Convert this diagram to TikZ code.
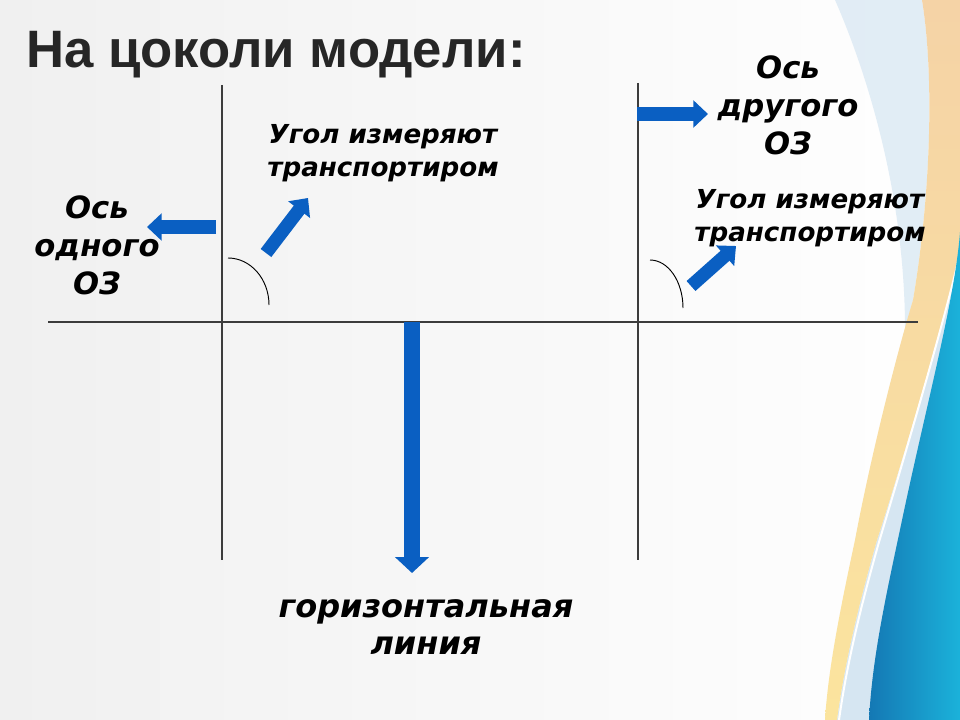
\documentclass[tikz,border=0pt]{standalone}
\usepackage{fontspec}
\setmainfont{Liberation Sans}
\newfontfamily\labelfont{DejaVu Sans}
\usetikzlibrary{arrows.meta}
\definecolor{arrowblue}{HTML}{0A5FC2}
\definecolor{linegray}{HTML}{3C3C3C}
\definecolor{titlegray}{HTML}{262626}
\definecolor{bggray}{HTML}{F0F0F0}
\definecolor{peach}{HTML}{F5D3A6}
\definecolor{paleyellow}{HTML}{FBE49E}
\definecolor{paleblue}{HTML}{D6E6F2}
\definecolor{deepblue}{HTML}{1478B4}
\definecolor{cyanblue}{HTML}{1BB2DA}

\begin{document}
\begin{tikzpicture}[x=0.75pt,y=-0.75pt,
    axisline/.style={draw=linegray, line width=0.8pt},
    anglearc/.style={draw=black, line width=0.7pt},
    blockarrow/.style={draw=arrowblue, line width=10pt,
        -{Triangle[length=11pt,width=20pt]}},
    bigarrow/.style={draw=arrowblue, line width=12pt,
        -{Triangle[length=12pt,width=25pt]}},
    biglabel/.style={font=\labelfont\bfseries\itshape\fontsize{23}{28.5}\selectfont,
        align=center, inner sep=0pt},
    smalllabel/.style={font=\labelfont\bfseries\itshape\fontsize{19.6}{25}\selectfont,
        align=center, inner sep=0pt}]

    % background of the slide
    \useasboundingbox (0,0) rectangle (960,720);
    \shade[left color=bggray, right color=white] (0,0) rectangle (960,720);
    % pale blue swoosh at the top right
    \fill[paleblue, opacity=0.7] (835,0) .. controls (870,80) and (905,200) .. (905,330)
        -- (913,300) .. controls (930,200) and (935,80) .. (922,0) -- cycle;
    % pale blue band below
    \fill[paleblue] (960,250) .. controls (950,300) and (900,470) .. (877,540)
        .. controls (860,600) and (845,660) .. (837,720) -- (960,720) -- cycle;
    % yellow band
    \shade[top color=peach, bottom color=paleyellow]
        (922,0) .. controls (935,80) and (930,200) .. (913,300)
        .. controls (895,360) and (870,460) .. (855,540)
        .. controls (840,610) and (828,670) .. (825,720) -- (837,720)
        .. controls (845,660) and (860,600) .. (877,540)
        .. controls (900,470) and (950,300) .. (960,250) -- (960,0) -- cycle;
    \draw[white, line width=1.5pt] (960,252) .. controls (950,302) and (900,472) .. (879,542)
        .. controls (862,602) and (847,662) .. (839,720);
    % blue region
    \shade[left color=deepblue, right color=cyanblue]
        (960,232) .. controls (955,300) and (925,410) .. (901,525)
        .. controls (885,600) and (872,660) .. (869,720) -- (960,720) -- cycle;

    % title
    \node[anchor=base west, inner sep=0pt, text=titlegray,
        font=\bfseries\fontsize{39.5}{47}\selectfont] (title) at (26,68) {На цоколи модели:};

    % draw the two vertical lines and the horizontal line
    \draw[axisline] (222,85) -- (222,560);
    \draw[axisline] (638,83) -- (638,560);
    \draw[axisline] (48,322) -- (918,322);

    % draw the angles
    \draw[anglearc] (228,258) arc[start angle=-90, end angle=0, x radius=41, y radius=47];
    \draw[anglearc] (650,260) arc[start angle=-90, end angle=0, x radius=33, y radius=48];

    % arrow ends
    \coordinate (oneTail) at (216,227);
    \coordinate (oneTip) at (147,227);
    \coordinate (angOneTail) at (266,253);
    \coordinate (angOneTip) at (308,198);
    \coordinate (twoTail) at (637,114);
    \coordinate (twoTip) at (708,114);
    \coordinate (angTwoTail) at (691,286);
    \coordinate (angTwoTip) at (736,246);
    \coordinate (horTail) at (412,322);
    \coordinate (horTip) at (412,573);

    % draw the blue arrows
    \draw[blockarrow] (oneTail) -- (oneTip);
    \draw[blockarrow] (angOneTail) -- (angOneTip);
    \draw[blockarrow] (twoTail) -- (twoTip);
    \draw[blockarrow] (angTwoTail) -- (angTwoTip);
    \draw[bigarrow] (horTail) -- (horTip);

    % draw nodes with the labels
    \node[biglabel] (axisOne) at (97,245) {Ось\\одного\\ОЗ};
    \node[biglabel] (axisTwo) at (788,105) {Ось\\другого\\ОЗ};
    \node[smalllabel] (angleOne) at (383,153) {Угол измеряют\\транспортиром};
    \node[smalllabel] (angleTwo) at (810,218) {Угол измеряют\\транспортиром};
    \node[biglabel, font=\labelfont\bfseries\itshape\fontsize{24}{28}\selectfont]
        (horizontal) at (426,627) {горизонтальная\\линия};

\end{tikzpicture}
\end{document}
